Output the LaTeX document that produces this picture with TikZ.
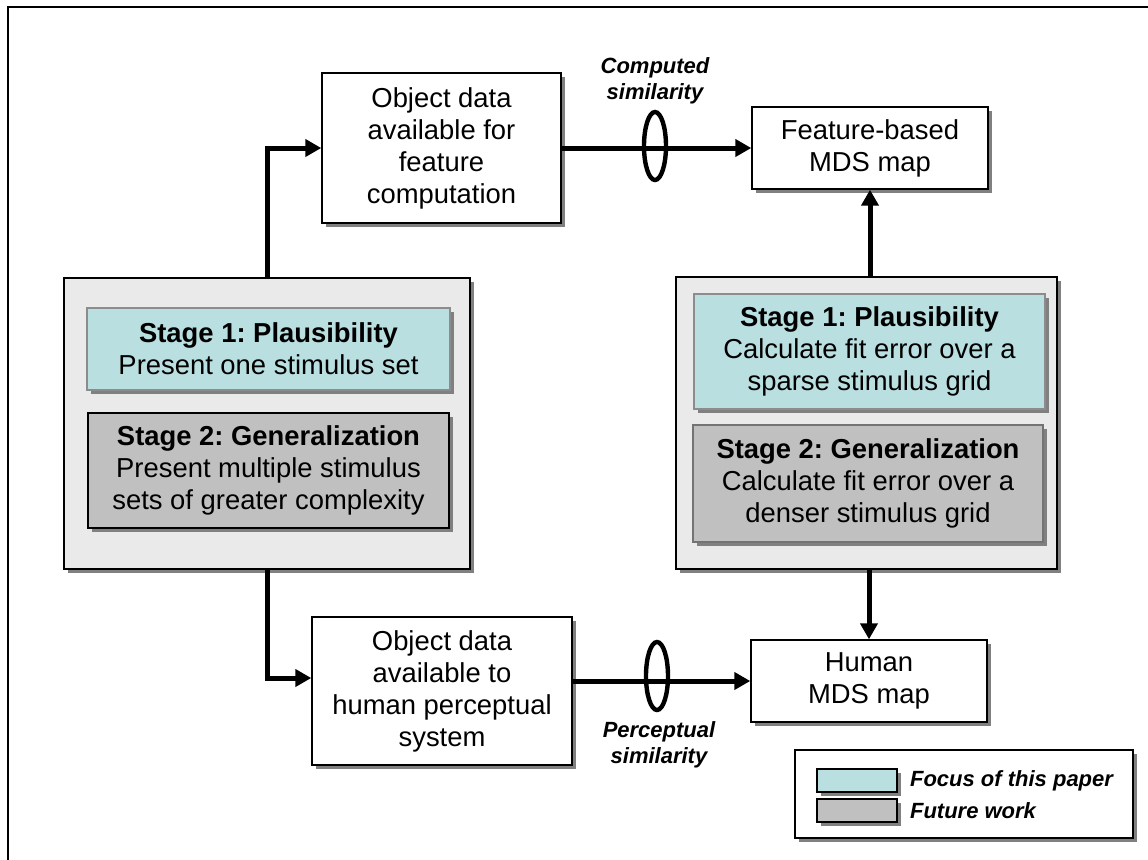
\documentclass[tikz,border=0pt]{standalone}
\usepackage{fontspec}
\setmainfont{Liberation Sans}
\usetikzlibrary{arrows.meta,shapes.geometric,shadows}
\definecolor{focuscyan}{HTML}{B9DFE1}
\definecolor{futuregrey}{HTML}{C0C0C0}
\definecolor{panelgrey}{HTML}{EAEAEA}
\definecolor{shadowgrey}{HTML}{808080}
\frenchspacing
\tikzset{
  shadowed/.style={drop shadow={shadow xshift=2pt,shadow yshift=-2pt,fill=shadowgrey,opacity=1}},
  databox/.style={draw,fill=white,line width=0.7pt,inner sep=0pt,align=center,shadowed,
    font=\fontsize{13.7}{16}\selectfont},
  panel/.style={databox,fill=panelgrey},
  focusbox/.style={databox,fill=focuscyan,draw=black!45},
  futurebox/.style={databox,fill=futuregrey},
  flow/.style={line width=2.5pt,-{Triangle[length=8pt,width=8.5pt]}},
  ring/.style={draw,ellipse,line width=2.2pt,inner sep=0pt,minimum width=11pt,minimum height=34pt},
  simlabel/.style={align=center,font=\fontsize{11}{13}\selectfont\bfseries\itshape}
}
\begin{document}
\begin{tikzpicture}[x=0.5pt,y=-0.5pt]
\useasboundingbox (0,0) rectangle (1148,859);
\draw[line width=0.9pt] (8,880) |- (1170,7);

% data and maps
\node[databox,minimum width=119.5pt,minimum height=75pt] (objfeat) at (441.5,148)
  {Object data\\available for\\feature\\computation};
\node[databox,minimum width=118pt,minimum height=41pt] (featmds) at (870,148)
  {Feature-based\\MDS map};
\node[databox,minimum width=130pt,minimum height=74pt] (objhum) at (442,691)
  {Object data\\available to\\human perceptual\\system};
\node[databox,minimum width=118pt,minimum height=41pt] (humanmds) at (869,681)
  {Human\\MDS map};

% stage panels
\node[panel,minimum width=203pt,minimum height=145.5pt] (leftbox) at (267,423.5) {};
\node[focusbox,minimum width=181.5pt,minimum height=41pt] (leftone) at (268.5,349)
  {\textbf{Stage 1: Plausibility}\\Present one stimulus set};
\node[futurebox,minimum width=180.5pt,minimum height=57.5pt] (lefttwo) at (268.5,470.5)
  {\textbf{Stage 2: Generalization}\\Present multiple stimulus\\sets of greater complexity};
\node[panel,minimum width=190.5pt,minimum height=146pt] (rightbox) at (866.5,423) {};
\node[focusbox,minimum width=175.5pt,minimum height=57.5pt] (rightone) at (869.5,351.5)
  {\textbf{Stage 1: Plausibility}\\Calculate fit error over a\\sparse stimulus grid};
\node[futurebox,draw=black!55,minimum width=175pt,minimum height=58.5pt] (righttwo) at (868,483.5)
  {\textbf{Stage 2: Generalization}\\Calculate fit error over a\\denser stimulus grid};

% connectors
\draw[flow] (leftbox.north) |- (objfeat.west);
\draw[flow] (leftbox.south) |- ([yshift=6.5pt]objhum.west);
\draw[flow] (objfeat.east) -- (featmds.west);
\draw[flow] (objhum.east |- humanmds.west) -- (humanmds.west);
\draw[flow] (featmds.south |- rightbox.north) -- (featmds.south);
\draw[flow] (humanmds.north |- rightbox.south) -- (humanmds.north);

\node[ring] (compring) at (655,146) {};
\node[ring] (percring) at (657,676) {};
\node[simlabel] (complabel) at (655,81) {Computed\\similarity};
\node[simlabel] (perclabel) at (659,745) {Perceptual\\similarity};

% legend
\node[databox,minimum width=169pt,minimum height=44pt] (legend) at (964,794) {};
\foreach \y/\c/\n/\t in {780.5/focuscyan/focus/Focus of this paper, 810.5/futuregrey/future/Future work}
{
  \node[databox,fill=\c,minimum width=40pt,minimum height=11.5pt] (sw\n) at (857,\y) {};
  \node[simlabel,anchor=west] (leg\n) at (903,\y) {\t};
}
\end{tikzpicture}
\end{document}
